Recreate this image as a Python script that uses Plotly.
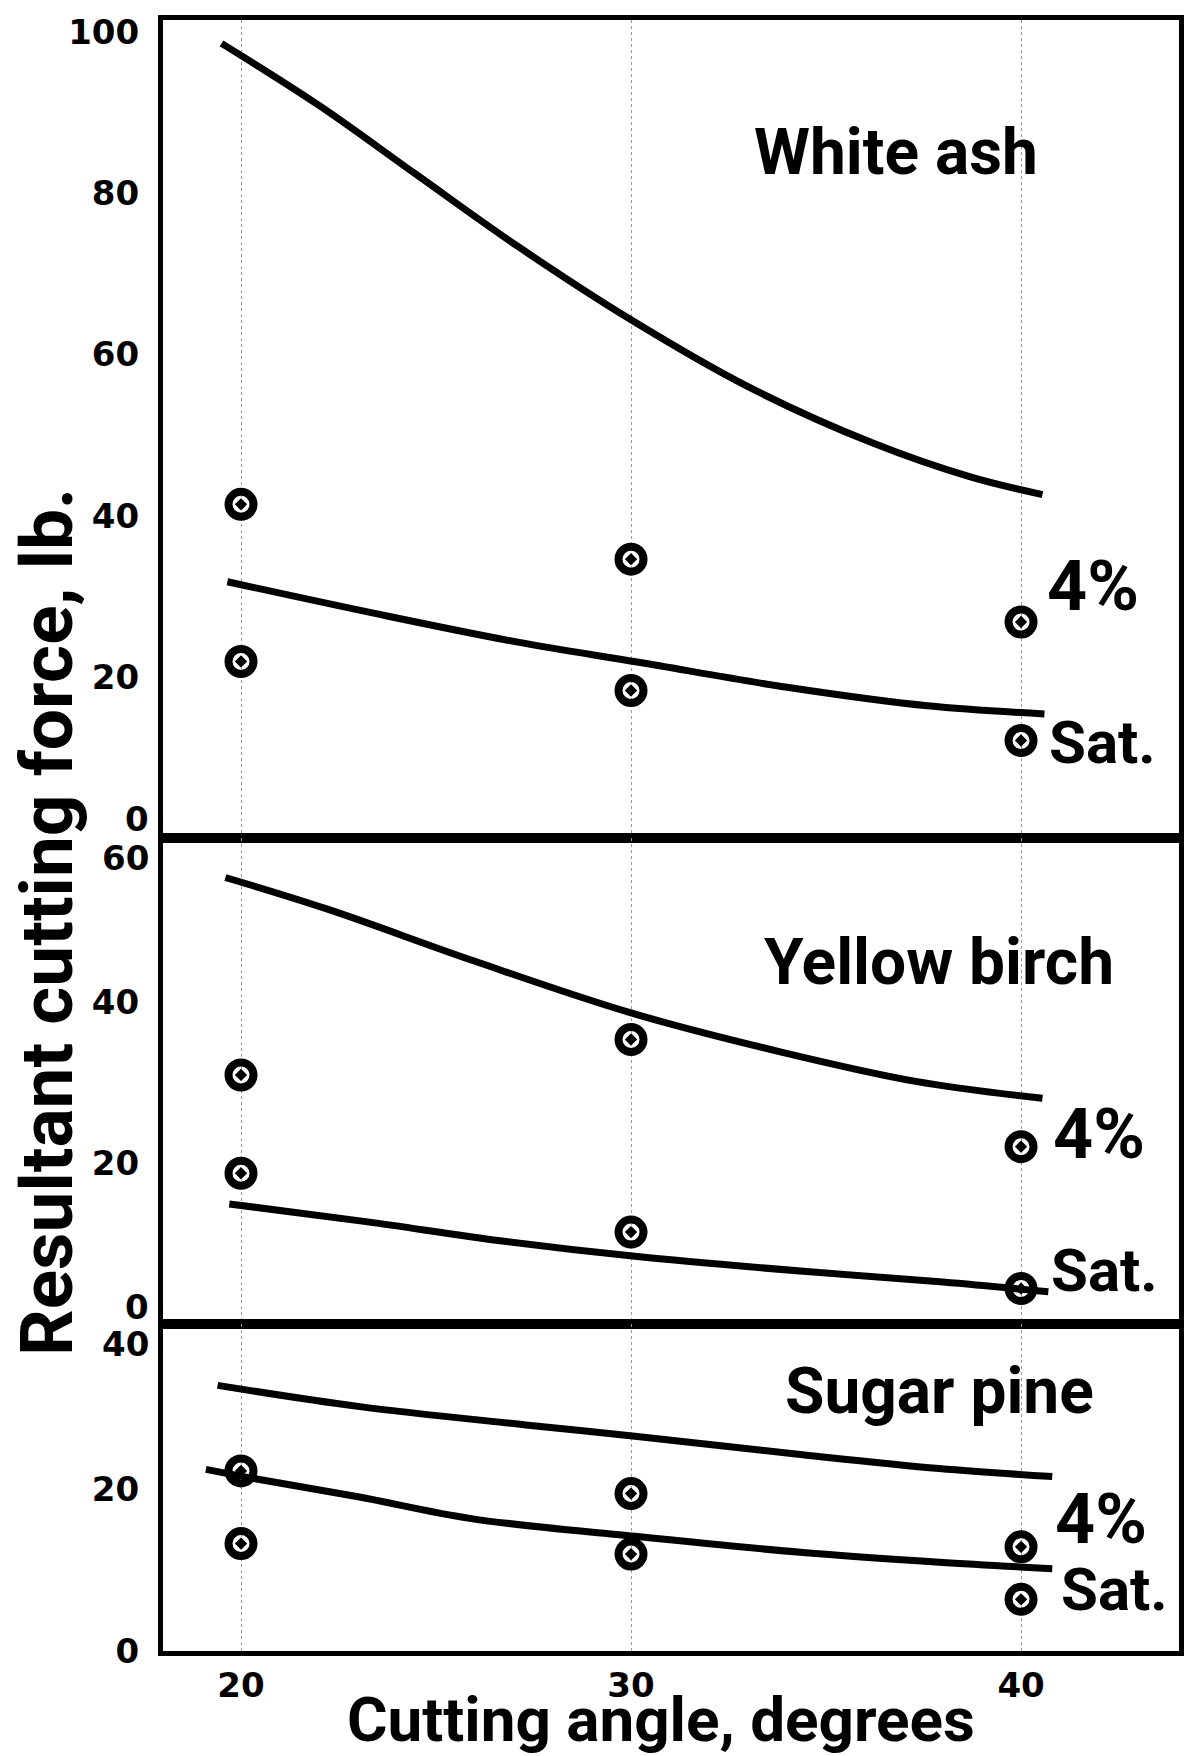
import plotly.graph_objects as go
from plotly.subplots import make_subplots

# ---------------- data ----------------
angles = [20, 30, 40]

# White ash
wa_curve_4_x = [19.5, 22.0, 24.5, 27.1, 30.0, 33.0, 36.2, 38.7, 40.55]
wa_curve_4_y = [98.6, 90.9, 82.3, 73.4, 64.3, 56.0, 49.0, 44.8, 42.6]
wa_curve_sat_x = [19.65, 23.4, 27.1, 30.2, 34.0, 37.6, 40.6]
wa_curve_sat_y = [31.8, 27.9, 24.3, 21.8, 18.7, 16.4, 15.4]
wa_pts_4 = [41.4, 34.6, 26.8]
wa_pts_sat = [21.9, 18.3, 12.1]

# Yellow birch
yb_curve_4_x = [19.6, 22.2, 26.0, 30.0, 33.8, 37.3, 40.55]
yb_curve_4_y = [55.4, 51.5, 45.0, 38.6, 33.8, 30.1, 28.0]
yb_curve_sat_x = [19.7, 23.2, 26.7, 30.1, 34.5, 38.0, 40.7]
yb_curve_sat_y = [14.9, 12.7, 10.3, 8.4, 6.5, 5.2, 4.0]
yb_pts_4 = [30.9, 35.3, 22.0]
yb_pts_sat = [18.7, 11.4, 4.4]

# Sugar pine
sp_curve_4_x = [19.4, 23.0, 27.3, 30.1, 34.4, 37.9, 40.8]
sp_curve_4_y = [32.9, 30.3, 28.0, 26.6, 24.3, 22.6, 21.6]
sp_curve_sat_x = [19.1, 20.4, 23.0, 25.9, 30.1, 34.4, 37.9, 40.8]
sp_curve_sat_y = [22.5, 21.3, 19.1, 16.4, 14.2, 12.2, 11.0, 10.2]
sp_pts_4 = [22.3, 19.5, 12.9]
sp_pts_sat = [13.3, 12.0, 6.4]

species = ["White ash", "Yellow birch", "Sugar pine"]
y_ranges = [[0, 101.5], [0, 60.3], [0, 40.5]]
x_ticks = [20, 30, 40]
x_tick_text = ["20", "30", "40"]

panels = [
    (wa_curve_4_x, wa_curve_4_y, wa_curve_sat_x, wa_curve_sat_y, wa_pts_4, wa_pts_sat),
    (yb_curve_4_x, yb_curve_4_y, yb_curve_sat_x, yb_curve_sat_y, yb_pts_4, yb_pts_sat),
    (sp_curve_4_x, sp_curve_4_y, sp_curve_sat_x, sp_curve_sat_y, sp_pts_4, sp_pts_sat),
]

# ---------------- figure ----------------
fig = make_subplots(rows=3, cols=1, shared_xaxes=True, vertical_spacing=0,
                    row_heights=[818, 486, 327])

line_style = dict(color="black", width=7, shape="spline", smoothing=1.0)
marker_style = dict(symbol="circle-open-dot", size=25, color="black",
                    line=dict(color="black", width=8))

for i, (c4x, c4y, csx, csy, p4, ps) in enumerate(panels, start=1):
    fig.add_trace(go.Scatter(x=c4x, y=c4y, mode="lines", line=line_style,
                             name=f"{species[i-1]} 4% curve", showlegend=False), row=i, col=1)
    fig.add_trace(go.Scatter(x=csx, y=csy, mode="lines", line=line_style,
                             name=f"{species[i-1]} Sat. curve", showlegend=False), row=i, col=1)
    fig.add_trace(go.Scatter(x=angles, y=p4, mode="markers", marker=marker_style,
                             name=f"{species[i-1]} 4%", showlegend=False), row=i, col=1)
    fig.add_trace(go.Scatter(x=angles, y=ps, mode="markers", marker=marker_style,
                             name=f"{species[i-1]} Sat.", showlegend=False), row=i, col=1)

tick_font = dict(family="DejaVu Sans", size=34, color="black", weight="bold")
big_font = dict(family="Roboto", size=64, color="black", weight="bold")
ytitle_font = dict(family="Roboto", size=73, color="black", weight="bold")
xtitle_font = dict(family="Roboto", size=62, color="black", weight="bold")
pct_font = dict(family="Roboto", size=70, color="black", weight="bold")
sat_font = dict(family="Roboto", size=60, color="black", weight="bold")

axis_common = dict(showline=True, mirror=True, linewidth=5, linecolor="black",
                   zeroline=False, ticks="")

for i in range(1, 4):
    fig.update_xaxes(range=[18.0, 44.05], tickvals=x_ticks, ticktext=x_tick_text,
                     showgrid=True, gridcolor="#9a9a9a", gridwidth=1, griddash="dot",
                     showticklabels=(i == 3), tickfont=tick_font, ticklabelstandoff=0,
                     row=i, col=1, **axis_common)

fig.update_yaxes(range=y_ranges[0], tickvals=[20, 40, 60, 80, 100], row=1, col=1)
fig.update_yaxes(range=y_ranges[1], tickvals=[20, 40], row=2, col=1)
fig.update_yaxes(range=y_ranges[2], tickvals=[0, 20], row=3, col=1)
fig.update_yaxes(showgrid=False, tickfont=tick_font, ticklabelstandoff=12, **axis_common)

annotations = []
# tick labels placed at the panel junctions (offset to avoid overlap)
for yref, yv, txt, ysh in [("y", 0, "0", 19), ("y2", 60.3, "60", -20),
                           ("y2", 0, "0", 17), ("y3", 40.5, "40", -20)]:
    annotations.append(dict(x=0, xref="paper", y=yv, yref=yref, text=txt,
                            xanchor="right", yanchor="middle", xshift=-12, yshift=ysh,
                            showarrow=False, font=tick_font))

# species names
for yref, xv, yv, txt in [("y", 36.8, 85.0, "White ash"), ("y2", 37.9, 44.8, "Yellow birch"),
                          ("y3", 37.9, 32.1, "Sugar pine")]:
    annotations.append(dict(x=xv, xref="x", y=yv, yref=yref, text=txt, showarrow=False,
                            xanchor="center", yanchor="middle", font=big_font))

# series labels
for yref, xv, yv, txt, f in [("y", 41.85, 31.3, "4%", pct_font), ("y", 42.1, 11.9, "Sat.", sat_font),
                             ("y2", 42.0, 23.6, "4%", pct_font), ("y2", 42.15, 6.6, "Sat.", sat_font),
                             ("y3", 42.05, 16.3, "4%", pct_font), ("y3", 42.4, 7.6, "Sat.", sat_font)]:
    annotations.append(dict(x=xv, xref="x", y=yv, yref=yref, text=txt, showarrow=False,
                            xanchor="center", yanchor="middle", font=f))

# axis titles
annotations.append(dict(x=0.49, xref="paper", y=-0.042, yref="paper",
                        text="Cutting angle, degrees", showarrow=False,
                        xanchor="center", yanchor="middle", font=xtitle_font))
annotations.append(dict(x=-0.114, xref="paper", y=0.447, yref="paper",
                        text="Resultant cutting force, lb.", showarrow=False, textangle=-90,
                        xanchor="center", yanchor="middle", font=ytitle_font))

fig.update_layout(
    width=1198, height=1756,
    margin=dict(l=163, r=19, t=20, b=105),
    paper_bgcolor="white", plot_bgcolor="white",
    showlegend=False,
    annotations=annotations,
)

fig.write_html("out.html")
